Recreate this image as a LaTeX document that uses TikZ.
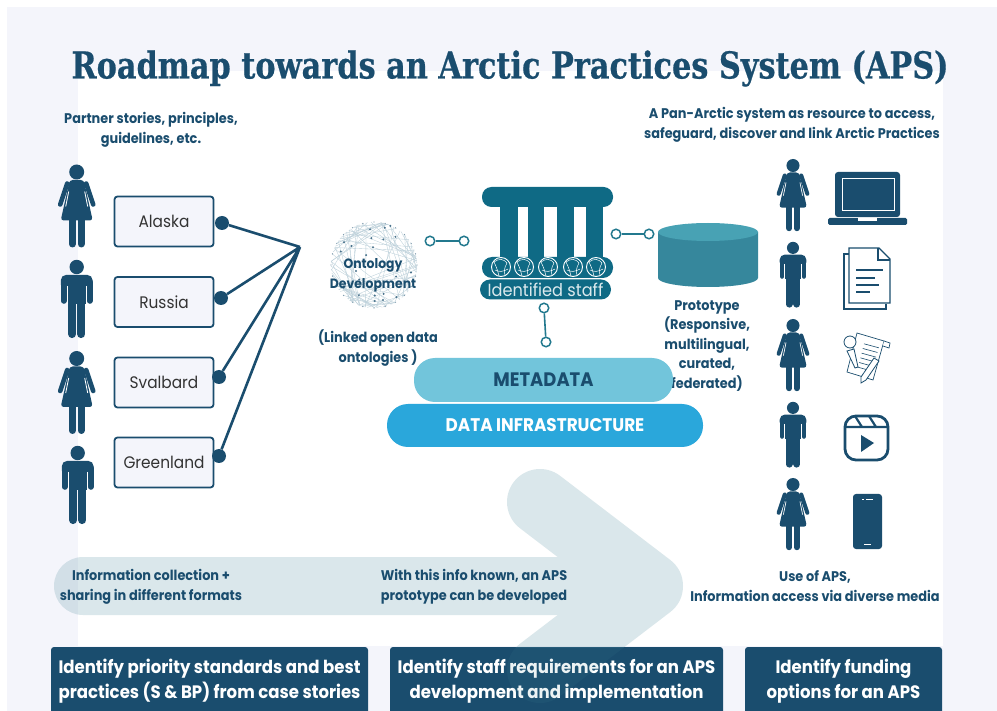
\documentclass[tikz,border=0pt]{standalone}
\usepackage{fontspec}
\usepackage{amsmath}
\usetikzlibrary{calc}
\setmainfont{Poppins}
\newfontfamily\titlefont[FakeStretch=.82,FakeBold=.5]{DejaVu Serif}
\newfontfamily\bodyfont[FakeStretch=.92]{Poppins}

\definecolor{navy}{HTML}{1A4D6E}
\definecolor{lavender}{HTML}{F4F5FB}
\definecolor{column}{HTML}{0F6A85}
\definecolor{stick}{HTML}{23798E}
\definecolor{cyltop}{HTML}{48A2B4}
\definecolor{cylbody}{HTML}{36879C}
\definecolor{metablue}{HTML}{72C5DB}
\definecolor{infrablue}{HTML}{2AA7DB}
\definecolor{arrowteal}{HTML}{4A8A9B}
\definecolor{mesh}{HTML}{BCD0DA}

\tikzset{
  regionbox/.style={draw=navy,line width=1.8pt,fill=lavender,rounded corners=3pt,minimum width=99pt,minimum height=50pt,inner sep=0pt,font=\bodyfont\fontsize{16.7}{18}\selectfont,text=black!80},
  taskbox/.style={fill=navy,rounded corners=3pt,inner sep=0pt,text=white,align=center,minimum height=69pt,font=\bodyfont\bfseries\fontsize{18}{25}\selectfont},
  labeltext/.style={text=navy,align=center,inner sep=0pt,font=\bodyfont\bfseries\fontsize{14}{20.3}\selectfont},
  layerpill/.style={rounded corners=21pt,inner sep=0pt},
  dotnode/.style={circle,fill=navy,minimum size=14pt,inner sep=0pt},
  ringnode/.style={circle,draw=stick,fill=white,line width=1.5pt,minimum size=9.5pt,inner sep=0pt},
  linkline/.style={navy,line width=2.6pt},
  stickline/.style={stick,line width=1.6pt},
}

\newcommand{\womanicon}[3]{
  \begin{scope}[shift={(#1,#2)},scale=#3]
    \fill[navy] (0,7.5) circle [radius=7.5];
    \fill[navy,rounded corners=3pt] (-7,15.5) -- (7,15.5) -- (16,56) -- (-16,56) -- cycle;
    \draw[navy,line width=#3*4.6pt,line cap=round] (-9.5,19) -- (-16.5,40) (9.5,19) -- (16.5,40);
    \draw[white,line width=#3*.8pt] (-8,27) -- (-11,42) (8,27) -- (11,42);
    \draw[navy,line width=#3*7pt,line cap=round] (-4.3,55) -- (-4.3,79.5) (4.3,55) -- (4.3,79.5);
  \end{scope}
}
\newcommand{\manicon}[3]{
  \begin{scope}[shift={(#1,#2)},scale=#3]
    \fill[navy] (0,7) circle [radius=7.2];
    \fill[navy,rounded corners=5pt] (-15.8,15) rectangle (15.8,30);
    \fill[navy] (-10,21) rectangle (10,44);
    \draw[navy,line width=#3*5.6pt,line cap=round] (-13,22) -- (-13,41) (13,22) -- (13,41);
    \draw[white,line width=#3*.8pt] (-9.8,26) -- (-9.8,44) (9.8,26) -- (9.8,44);
    \draw[navy,line width=#3*8.2pt,line cap=round] (-4.6,42) -- (-4.6,74) (4.6,42) -- (4.6,74);
  \end{scope}
}

\begin{document}
\begin{tikzpicture}[x=1pt,y=-1pt]
\useasboundingbox (0,0) rectangle (997,711);

%Background
\fill[white] (0,0) rectangle (997,711);
\fill[lavender] (7,7) rectangle (997,711);
\fill[white] (78,71) rectangle (943,646);

%Bottom boxes
\node[taskbox,minimum width=317pt] (task1) at (209.5,681.5) {Identify priority standards and best\\practices (S \& BP) from case stories};
\node[taskbox,minimum width=333pt] (task2) at (556.5,681.5) {Identify staff requirements for an APS\\development and implementation};
\node[taskbox,minimum width=197pt] (task3) at (843.5,681.5) {Identify funding\\options for an APS};

%Big arrow
\begin{scope}
  \clip (0,0) rectangle (997,647);
  \begin{scope}[transparency group,opacity=.2]
    \draw[arrowteal,line width=58pt,line cap=round] (83,586) -- (650,586);
    \draw[arrowteal,line width=66pt,line cap=round,line join=round] (540,502) -- (650,586) -- (540,670);
  \end{scope}
\end{scope}
\begin{scope}
  \clip (0,647) rectangle (997,711);
  \draw[arrowteal,opacity=.1,line width=66pt,line cap=round,line join=round] (650,586) -- (540,670);
\end{scope}

%Title
\node[text=navy,inner sep=0pt,font=\titlefont\bfseries\fontsize{37}{40}\selectfont] (title) at (510,68.5) {Roadmap towards an Arctic Practices System (APS)};

%Captions
\node[labeltext] (partner) at (151,130) {Partner stories, principles,\\guidelines, etc.};
\node[labeltext] (system) at (792,125) {A Pan-Arctic system as resource to access,\\safeguard, discover and link Arctic Practices};
\node[labeltext] (collect) at (151,587) {Information collection +\\sharing in different formats};
\node[labeltext] (known) at (474,587) {With this info known, an APS\\prototype can be developed};
\node[labeltext] (use) at (815,586) {Use of APS,\\Information access via diverse media};

%People left
\womanicon{76.7}{164.5}{1}
\manicon{76.7}{260}{1}
\womanicon{76.7}{351}{1}
\manicon{77.7}{446}{1}

%People right
\womanicon{793}{159}{.87}
\manicon{793}{242}{.84}
\womanicon{793}{319}{.87}
\manicon{793}{402}{.84}
\womanicon{793}{478}{.87}

%Regions
\node[regionbox] (alaska) at (164,221.5) {Alaska};
\node[regionbox] (russia) at (164,302) {Russia};
\node[regionbox] (svalbard) at (164,382.5) {Svalbard};
\node[regionbox] (greenland) at (164,462.5) {Greenland};

\coordinate (hub) at (300,247);
\node[dotnode] (alaskadot) at (222,223) {};
\node[dotnode] (russiadot) at (221,298) {};
\node[dotnode] (svalbarddot) at (219,377) {};
\node[dotnode] (greenlanddot) at (219,456) {};

\draw[linkline] (alaskadot) -- (hub)
      (russiadot) -- (hub)
      (svalbarddot) -- (hub)
      (greenlanddot) -- (hub);

%Ontology sphere
\pgfmathsetseed{11}
\foreach \i in {1,...,70}{
  \pgfmathsetmacro{\angA}{rnd*360}
  \pgfmathsetmacro{\angB}{\angA+40+rnd*120}
  \draw[mesh,line width=.35pt] ($(374,265)+(\angA:43)$) -- ($(374,265)+(\angB:43)$);
}
\foreach \i in {1,...,26}{
  \pgfmathsetmacro{\angA}{rnd*360}
  \pgfmathsetmacro{\radA}{43*sqrt(rnd)}
  \fill[navy!80] ($(374,265)+(\angA:\radA)$) circle [radius=1.1];
}
\foreach \i in {0,15,...,345}{
  \fill[navy!55] ($(374,265)+(\i:43)$) circle [radius=.7];
}
\node[labeltext,font=\bodyfont\bfseries\fontsize{13.5}{19.5}\selectfont] (ontology) at (373,275.5) {Ontology\\Development};
\node[labeltext] (linked) at (378,348) {(Linked open data\\ontologies )};

%Temple
\fill[column,rounded corners=9.5pt] (482,187) rectangle (613,207);
\foreach \xa/\xb in {500/518,528/544,557/574,586/603}{
  \fill[column] (\xa,205) rectangle (\xb,260);
}
\fill[column,rounded corners=10pt] (482,257) rectangle (613,278);
\foreach \cx in {501,524,548,573,596}{
  \draw[white,line width=.9pt] (\cx,267) circle [radius=9.5];
  \draw[white,line width=.5pt] (\cx-7,262) .. controls (\cx-2,258) and (\cx+3,259) .. (\cx+6,263)
        (\cx-7,262) .. controls (\cx-4,268) and (\cx-3,272) .. (\cx-2,276)
        (\cx+6,263) .. controls (\cx+3,268) and (\cx+3,272) .. (\cx+4,275)
        (\cx-6,270) .. controls (\cx-2,272) and (\cx+2,272) .. (\cx+7,269);
}
\node[fill=column,rounded corners=10pt,text=white!85!column,minimum width=131pt,minimum height=20pt,inner sep=0pt,font=\bodyfont\fontsize{17.6}{18}\selectfont] (staff) at (545.5,289.5) {Identified staff};

%Rings
\node[ringnode] (ringa) at (430,241) {};
\node[ringnode] (ringb) at (464,241) {};
\node[ringnode] (ringc) at (616,234) {};
\node[ringnode] (ringd) at (649,234) {};
\node[ringnode] (ringe) at (544,308) {};
\node[ringnode] (ringf) at (546,342) {};
\draw[stickline] (ringa) -- (ringb);
\draw[stickline] (ringc) -- (ringd);
\draw[stickline] (ringe) -- (ringf);

%Cylinder
\fill[cylbody] (658,232) -- (658,278) arc [start angle=180,end angle=0,x radius=50,y radius=9] -- (758,232) -- cycle;
\fill[cyltop] (708,232) ellipse [x radius=50,y radius=9];
\node[labeltext,font=\bodyfont\bfseries\fontsize{14}{19.5}\selectfont] (proto) at (707,346) {Prototype\\(Responsive,\\multilingual,\\curated,\\federated)};

%Layers
\node[layerpill,fill=metablue,minimum width=259pt,minimum height=44pt,text=navy,font=\bodyfont\bfseries\fontsize{19.5}{20}\selectfont] (meta) at (543.5,380) {METADATA};
\node[layerpill,fill=infrablue,minimum width=316pt,minimum height=43pt,text=white,font=\bodyfont\bfseries\fontsize{18.3}{20}\selectfont] (infra) at (545,425.5) {DATA INFRASTRUCTURE};

%Laptop
\fill[navy,rounded corners=3pt] (835,172) rectangle (900,217);
\draw[white,line width=.8pt] (842,178) rectangle (894,210.5);
\fill[navy,rounded corners=1.5pt] (828,218) rectangle (907,225);
\fill[white] (858,218) rectangle (877,221.5);

%Document
\draw[navy,line width=1.1pt] (849,254) -- (844,254) -- (844,309) -- (886,309) -- (886,304);
\draw[navy,line width=1.1pt,fill=white] (849,248) -- (879,248) -- (890,259) -- (890,303) -- (849,303) -- cycle;
\draw[navy,line width=1.1pt] (878,248) -- (878,260) -- (890,260);
\draw[navy,line width=1.6pt] (856,270) -- (883,270) (856,278) -- (875,278) (856,285) -- (879,285) (856,292) -- (870,292);

%Notepad
\draw[navy,line width=.7pt,fill=white] (857,333) -- (884,341) -- (873,380) -- (847,372) -- cycle;
\draw[navy,line width=.7pt,fill=white] (884,341) -- (890,343) -- (889,348) -- (883,346);
\foreach \t in {.2,.32,.44,.56,.68,.8}{
  \draw[navy,line width=.6pt] ($(857,333)!\t!(847,372)+(9,3)$) -- ($(884,341)!\t!(873,380)+(-3,-1)$);
}
\draw[navy,line width=.8pt,fill=white] (847,351) -- (854,349) -- (858,367) -- (855,368) -- cycle;
\draw[navy,line width=.8pt,fill=white] (850,342) circle [radius=6];
\draw[navy,line width=.8pt,fill=white] (874,358) -- (879,361) -- (866,380) -- (861,383) -- (861,377) -- cycle;

%Reels
\draw[navy,line width=2.8pt,rounded corners=11pt] (845,416) rectangle (888,460);
\draw[navy,line width=2.2pt] (845,427) -- (888,427) (855,416) -- (862,427) (869,416) -- (876,427);
\fill[navy] (861,435) -- (874,443) -- (861,452) -- cycle;

%Phone
\fill[navy,rounded corners=3pt] (853,494) rectangle (882,549);
\draw[white,line width=1pt] (866,499) -- (873,499) (862,499) -- (863.5,499) (864,544.5) -- (871,544.5);

\end{tikzpicture}
\end{document}
